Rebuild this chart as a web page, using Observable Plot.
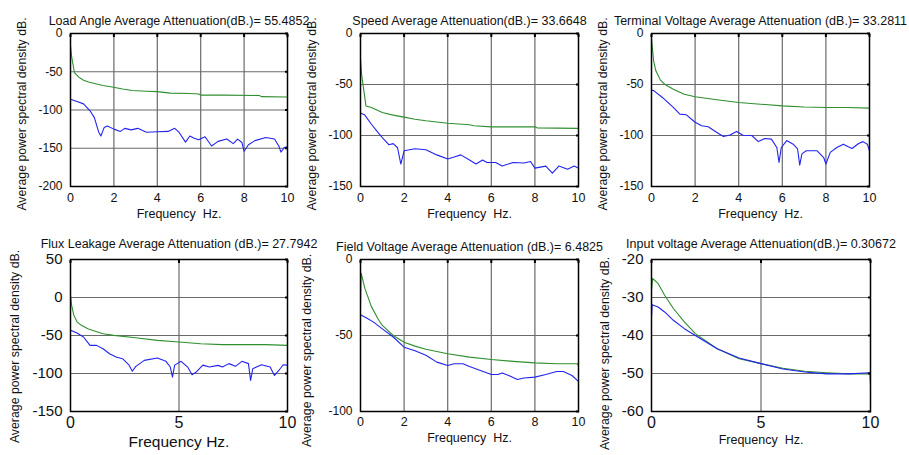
<!DOCTYPE html>
<html>
<head>
<meta charset="utf-8">
<script src="https://cdn.jsdelivr.net/npm/d3@7"></script>
<script src="https://cdn.jsdelivr.net/npm/@observablehq/plot@0.6"></script>
<style>
  html, body { margin: 0; padding: 0; background: #fff; }
  #root { position: relative; width: 909px; height: 455px; overflow: hidden; background: #fff; }
  #root svg { position: absolute; }
</style>
</head>
<body>
<div id="root"></div>
<script>
// ---- Data: [frequency Hz, power spectral density dB] ----
const loadAngleGreen = [[0,-16],[0.05,-30],[0.18,-51],[0.38,-57],[0.6,-61],[0.83,-63.5],[1.2,-66],[1.5,-68],[1.92,-70],[2.4,-72.5],[2.84,-74.5],[3.5,-75.5],[4,-76],[4.6,-78],[5.5,-78.5],[5.9,-79],[6.0,-80.5],[7,-80.5],[8.7,-81],[8.8,-82.5],[10,-83]];
const loadAngleBlue = [[0,-86],[0.3,-89],[0.6,-92],[0.9,-101],[1.1,-110],[1.3,-129],[1.4,-134],[1.55,-123],[1.7,-121],[2,-125],[2.3,-128],[2.5,-124],[2.8,-126],[3.1,-124],[3.5,-129],[4,-128.5],[4.5,-128],[4.8,-124],[5,-129],[5.3,-142],[5.5,-134],[5.7,-137],[5.9,-139],[6.2,-135],[6.5,-147],[6.8,-141],[7.2,-138],[7.5,-144],[7.7,-138],[7.9,-142.5],[8.0,-154],[8.2,-145.5],[8.5,-140],[9,-136],[9.4,-138],[9.6,-147],[9.7,-155],[9.85,-149],[10,-148]];

const speedGreen = [[0,-25],[0.05,-40],[0.25,-71],[0.5,-72.5],[1,-77.5],[1.5,-80],[2,-82],[2.5,-84],[3,-85.6],[4,-88],[5,-89.5],[5.2,-90.5],[6,-91.5],[7,-91.5],[8,-91.5],[8.1,-92.5],[9,-92.8],[10,-93]];
const speedBlue = [[0,-78],[0.2,-80],[0.5,-89],[0.8,-97],[1,-102],[1.3,-109],[1.5,-108],[1.7,-112],[1.85,-128],[2.0,-115],[2.5,-113],[3,-114],[3.5,-119],[4,-123],[4.3,-121],[4.6,-119],[5,-124],[5.3,-128],[5.6,-124],[5.8,-126.5],[6.2,-126.5],[6.5,-130],[7,-126.5],[7.5,-127],[7.8,-125.5],[8,-132],[8.5,-130],[8.8,-137],[9.1,-130],[9.5,-133],[9.8,-130],[10,-132]];

const terminalGreen = [[0,-5.5],[0.1,-27],[0.2,-36.6],[0.4,-45.4],[0.6,-49.7],[1,-54.6],[1.5,-59.5],[2,-62],[3,-65],[4,-67.6],[5,-69.3],[6,-71],[7,-72],[8,-72.5],[9,-72.6],[10,-73.2]];
const terminalBlue = [[0,-55.5],[0.1,-56],[0.5,-62.7],[1,-72.5],[1.3,-79],[1.6,-79.7],[2,-87],[2.3,-90.5],[2.6,-91.5],[3,-97],[3.3,-101],[3.6,-99.5],[3.9,-96],[4.2,-99.7],[4.6,-100],[4.9,-106],[5.2,-103],[5.5,-103.6],[5.75,-111.8],[5.85,-126.5],[5.95,-112],[6.2,-105],[6.5,-108.5],[6.7,-113],[6.8,-129],[6.9,-118],[7.1,-115],[7.6,-115],[7.9,-121.6],[8.0,-128],[8.2,-116.5],[8.5,-111.8],[8.8,-108.5],[9.0,-110.8],[9.2,-112.7],[9.5,-107.8],[9.7,-106],[9.9,-108.5],[10,-115]];

const fluxGreen = [[0,3],[0.05,-10],[0.15,-23],[0.3,-32],[0.5,-36.6],[0.8,-41],[1,-43],[1.5,-47.6],[2,-49.8],[3,-53],[4,-56.4],[5,-58.6],[6,-60.8],[7,-62],[8,-62],[9,-62],[10,-63]];
const fluxBlue = [[0,-43],[0.3,-46.7],[0.6,-52],[0.9,-63],[1.2,-63],[1.5,-67.4],[1.8,-74],[2.1,-78.4],[2.4,-80.5],[2.7,-89],[2.85,-97],[3.0,-91],[3.4,-82.7],[4,-79.7],[4.4,-84],[4.6,-91.5],[4.7,-104.7],[4.8,-89],[5.1,-84],[5.4,-91.5],[5.6,-101.6],[5.8,-98],[6.1,-89],[6.4,-91.5],[6.8,-89.3],[7,-91.5],[7.3,-87],[7.6,-90.6],[7.9,-84],[8.2,-87],[8.3,-109],[8.4,-93.6],[8.8,-88.5],[9.2,-91.5],[9.4,-102.5],[9.6,-96],[9.8,-88.5],[10,-89]];

const fieldGreen = [[0,-31],[0.03,-9],[0.2,-19],[0.5,-31],[0.8,-39],[1,-43.4],[1.5,-50],[2,-54.4],[2.5,-57],[3,-59],[4,-62],[5,-64.2],[6,-65.8],[7,-67],[8,-68],[9,-68.6],[9.95,-68.6],[10,-70]];
const fieldBlue = [[0,-36.4],[0.3,-38.6],[0.6,-41.2],[1,-45.6],[1.5,-51],[2,-57.7],[2.5,-60],[3,-63],[3.5,-67.5],[4,-69.7],[4.3,-68.6],[4.7,-68.6],[5,-70.4],[5.5,-73],[6,-75.7],[6.3,-75.7],[6.5,-74.6],[6.8,-76.3],[7.2,-79],[7.5,-78],[8,-77.4],[8.5,-75.7],[9,-73.7],[9.3,-73.7],[9.7,-76.3],[10,-80.3]];

const inputGreen = [[0,-28.1],[0.05,-25],[0.3,-26.3],[0.6,-29.4],[1,-32.9],[1.5,-36.4],[2,-39.5],[3,-43.5],[4,-46.1],[5,-47.4],[6,-48.6],[7,-49.4],[8,-49.8],[9,-50.1],[9.97,-50.1],[10,-53.1]];
const inputBlue = [[0,-35.1],[0.03,-31.9],[0.3,-32.5],[0.6,-33.8],[1,-36],[1.5,-38.2],[2,-40],[3,-43.5],[4,-45.9],[5,-47.4],[6,-48.8],[7,-49.6],[8,-50.1],[9,-50.1],[10,-49.8]];

// ---- Labels & ticks ----
const titles = [
  "Load Angle Average Attenuation(dB.)= 55.4852",
  "Speed Average Attenuation(dB.)= 33.6648",
  "Terminal Voltage Average Attenuation (dB.)= 33.2811",
  "Flux Leakage Average Attenuation (dB.)= 27.7942",
  "Field Voltage Average Attenuation (dB.)= 6.4825",
  "Input voltage Average Attenuation(dB.)= 0.30672"
];
const xTicksFine = [0, 2, 4, 6, 8, 10];
const xTicksCoarse = [0, 5, 10];
const yTicksLoad = [0, -50, -100, -150, -200];
const yTicksSpeed = [0, -50, -100, -150];
const yTicksTerminal = [0, -50, -100, -150];
const yTicksFlux = [50, 0, -50, -100, -150];
const yTicksField = [0, -50, -100];
const yTicksInput = [-20, -30, -40, -50, -60];
const yLabel = "Average power spectral density dB.";
const xLabelSpaced = "Frequency\u00a0 Hz.";
const xLabelPlain = "Frequency Hz.";

// ---- Layout ----
const FONT = "'Liberation Sans', Arial, Helvetica, sans-serif";
const panels = [
  {title: titles[0], frame: [70, 287, 33, 186], xTicks: xTicksFine, yTicks: yTicksLoad, green: loadAngleGreen, blue: loadAngleBlue, titleDy: -17.5, yTickFont: 12, xTickFont: 12.5, xTickPad: 7, xLabel: xLabelSpaced, xLabelFont: 12.5, xLabelDy: 31, yLabelDx: -48, yLabelDy: 4},
  {title: titles[1], frame: [360, 578, 33, 186], xTicks: xTicksFine, yTicks: yTicksSpeed, green: speedGreen, blue: speedBlue, titleDy: -17.5, yTickFont: 12, xTickFont: 12.5, xTickPad: 7, xLabel: xLabelSpaced, xLabelFont: 12.5, xLabelDy: 31, yLabelDx: -48, yLabelDy: 4},
  {title: titles[2], frame: [651, 869, 33, 186], xTicks: xTicksFine, yTicks: yTicksTerminal, green: terminalGreen, blue: terminalBlue, titleDy: -17.5, yTickFont: 12, xTickFont: 12.5, xTickPad: 7, xLabel: xLabelSpaced, xLabelFont: 12.5, xLabelDy: 31, yLabelDx: -48, yLabelDy: 4},
  {title: titles[3], frame: [70, 287, 259, 411], xTicks: xTicksCoarse, yTicks: yTicksFlux, green: fluxGreen, blue: fluxBlue, titleDy: -20, yTickFont: 15, xTickFont: 16, xTickPad: 5, xLabel: xLabelPlain, xLabelFont: 15.5, xLabelDy: 35, yLabelDx: -55, yLabelDy: 11},
  {title: titles[4], frame: [360, 578, 259, 411], xTicks: xTicksFine, yTicks: yTicksField, green: fieldGreen, blue: fieldBlue, titleDy: -17.5, yTickFont: 12, xTickFont: 12.5, xTickPad: 6, xLabel: xLabelSpaced, xLabelFont: 12.5, xLabelDy: 30, yLabelDx: -53, yLabelDy: 15},
  {title: titles[5], frame: [651, 870, 259, 411], xTicks: xTicksCoarse, yTicks: yTicksInput, green: inputGreen, blue: inputBlue, titleDy: -20, yTickFont: 15, xTickFont: 16, xTickPad: 5, xLabel: xLabelSpaced, xLabelFont: 12.5, xLabelDy: 32, yLabelDx: -46, yLabelDy: 18}
];

const mL = 75, mR = 45, mT = 40, mB = 55;
const root = document.getElementById("root");

for (const p of panels) {
  const [x0, x1, y0, y1] = p.frame;
  const w = x1 - x0, h = y1 - y0;
  const yDom = d3.extent(p.yTicks);
  const blank = () => "";
  const chart = Plot.plot({
    width: w + mL + mR,
    height: h + mT + mB,
    marginLeft: mL, marginRight: mR, marginTop: mT, marginBottom: mB,
    style: `background: transparent; overflow: visible; font-family: ${FONT}; color: #111; max-width: none;`,
    x: {domain: [0, 10]},
    y: {domain: yDom},
    marks: [
      Plot.ruleX(p.xTicks.slice(1, -1), {stroke: "#6a6a6a", strokeWidth: 1.2}),
      Plot.ruleY(p.yTicks.filter(t => t !== yDom[0] && t !== yDom[1]), {stroke: "#6a6a6a", strokeWidth: 1.2}),
      Plot.line(p.green, {x: d => d[0], y: d => d[1], stroke: "#2f8f2f", strokeWidth: 1.1, clip: true}),
      Plot.line(p.blue, {x: d => d[0], y: d => d[1], stroke: "#2323f0", strokeWidth: 1.1, clip: true}),
      Plot.frame({stroke: "#000", strokeWidth: 1.5}),
      // inward tick marks on top and right edges
      Plot.axisX({anchor: "top", ticks: p.xTicks, tickSize: -3, tickPadding: 0, tickFormat: blank, label: null, stroke: "#000", strokeWidth: 2}),
      Plot.axisY({anchor: "right", ticks: p.yTicks, tickSize: -3, tickPadding: 0, tickFormat: blank, label: null, stroke: "#000", strokeWidth: 2}),
      Plot.axisX({ticks: p.xTicks, tickSize: 0, tickPadding: p.xTickPad, fontSize: p.xTickFont, label: null, tickFormat: d => String(d)}),
      Plot.axisY({ticks: p.yTicks, tickSize: 0, tickPadding: 8, fontSize: p.yTickFont, label: null, tickFormat: d => String(d)}),
      Plot.text([p.title], {frameAnchor: "top", textAnchor: "middle", dy: p.titleDy, fontSize: 12.5, fill: "#111", text: d => d}),
      Plot.text([p.xLabel], {frameAnchor: "bottom", textAnchor: "middle", dy: p.xLabelDy, fontSize: p.xLabelFont, fill: "#111", text: d => d}),
      Plot.text([yLabel], {frameAnchor: "left", textAnchor: "middle", dx: p.yLabelDx, dy: p.yLabelDy, rotate: -90, fontSize: 12.3, fill: "#111", text: d => d})
    ]
  });
  chart.style.left = (x0 - mL) + "px";
  chart.style.top = (y0 - mT) + "px";
  root.appendChild(chart);
}
</script>
</body>
</html>
